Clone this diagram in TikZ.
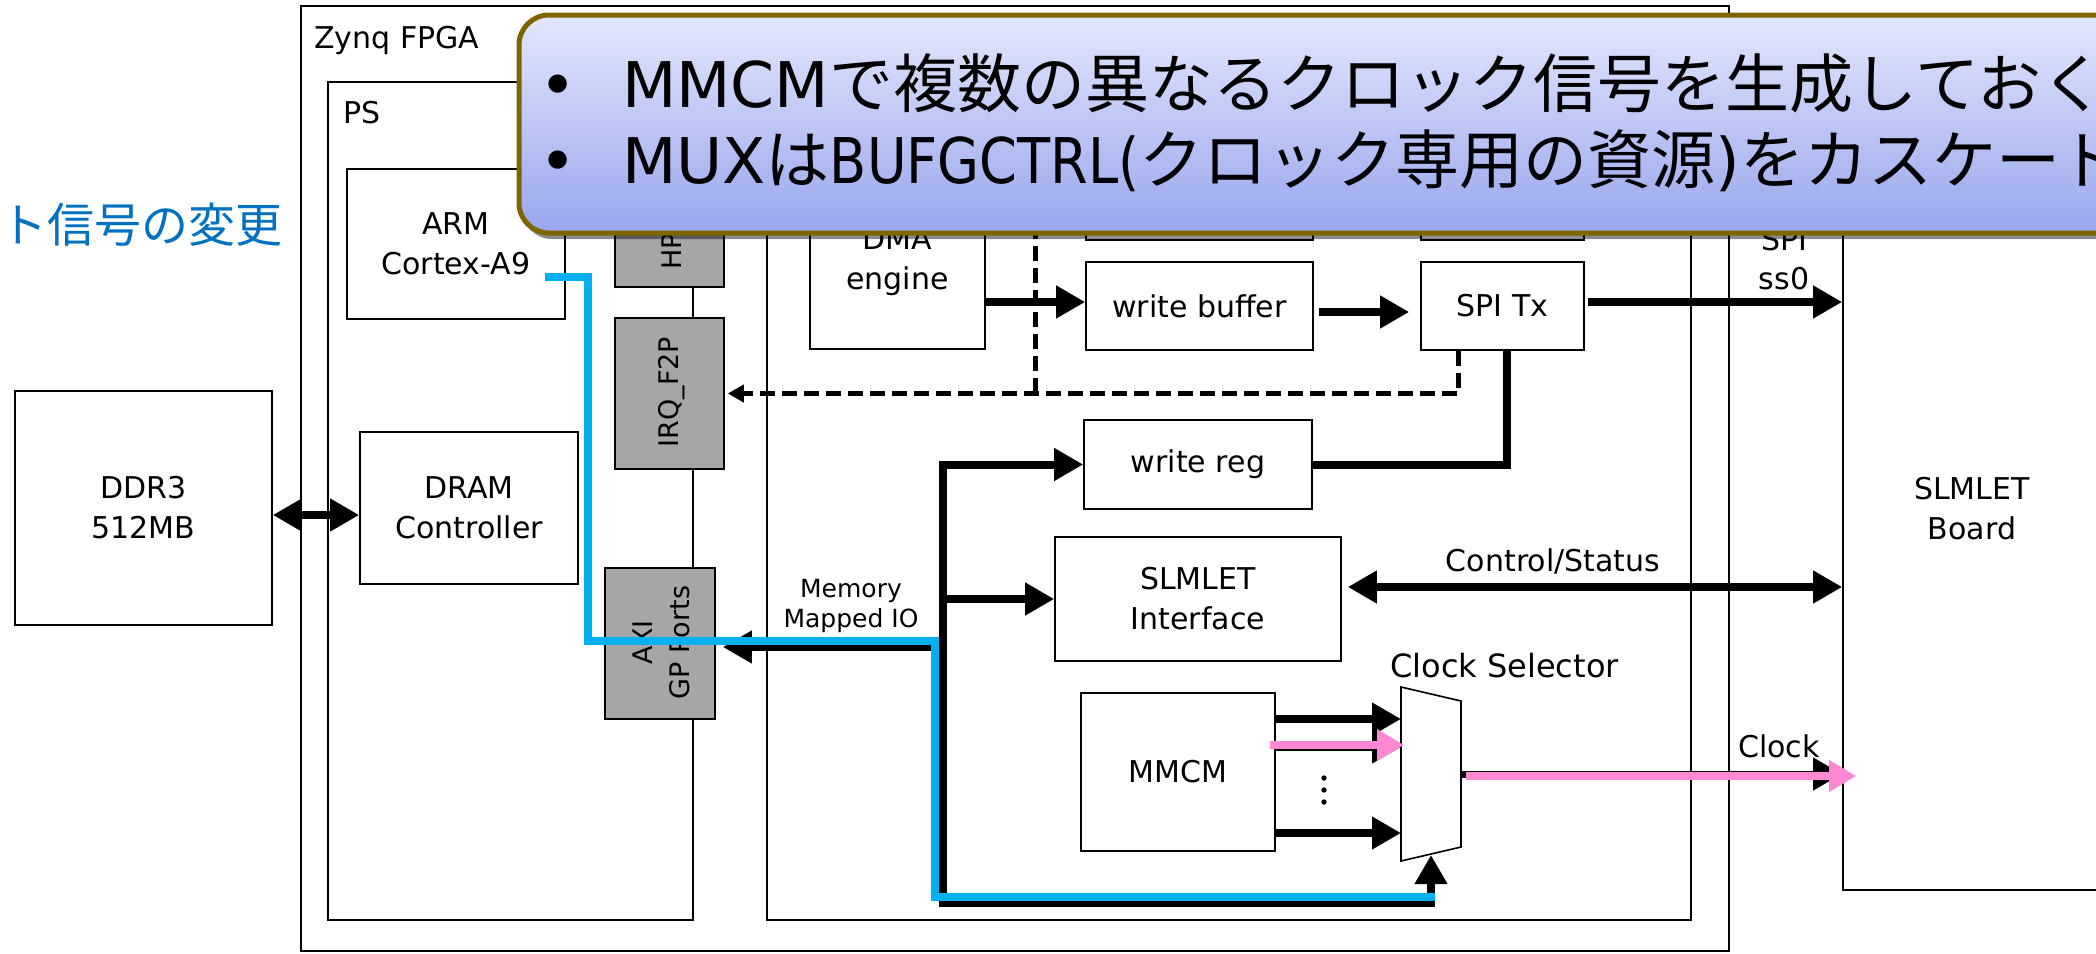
\documentclass[tikz,border=0pt]{standalone}
\usepackage{fontspec}
\usepackage{graphicx}
\setmainfont{DejaVu Sans}
\newfontfamily\jpfont{Noto Sans CJK JP}
\usetikzlibrary{arrows.meta,shadows,calc}
\definecolor{cblue}{HTML}{00B0F0}
\definecolor{cpink}{HTML}{FF88D4}
\definecolor{cgrey}{HTML}{A6A6A6}
\definecolor{cborder}{HTML}{806400}
\definecolor{ctop}{HTML}{E3E7FB}
\definecolor{cbot}{HTML}{98A6EE}
\definecolor{titleblue}{HTML}{0070C0}
\newcommand{\jpbig}[1]{{\jpfont\fontsize{64}{64}\selectfont #1}}
\begin{document}
\begin{tikzpicture}[x=1pt,y=-1pt,
  cframe/.style={draw, line width=1.6pt, inner sep=0pt},
  blk/.style={draw, line width=1.6pt, fill=white, inner sep=0pt, align=center, font=\fontsize{30}{40}\selectfont},
  gblk/.style={blk, fill=cgrey},
  lbl/.style={inner sep=0pt, font=\fontsize{30}{40}\selectfont},
  rot/.style={inner sep=0pt, rotate=90, font=\fontsize{27}{37}\selectfont},
  bus/.style={line width=8pt},
  arrowA/.style={-{Triangle[length=29pt,width=31pt]}},
  darrow/.style={{Triangle[length=29pt,width=31pt]}-{Triangle[length=29pt,width=31pt]}},
  dline/.style={line width=5pt, dash pattern=on 15pt off 7pt},
  darrowtip/.style={-{Triangle[length=16pt,width=17pt]}},
  pbus/.style={line width=8pt, cpink},
  parrow/.style={-{Triangle[length=27pt,width=30pt]}},
  bbus/.style={line width=8pt, cblue, line join=miter}
]
\useasboundingbox (0,0) rectangle (2096,953);
\clip (0,0) rectangle (2096,953);

% containers
\node[cframe, minimum width=1428pt, minimum height=945pt] (zynq) at (1015,478.5) {};
\node[lbl, anchor=base west] (zynqlbl) at (314,48) {Zynq FPGA};
\node[cframe, minimum width=365pt, minimum height=838pt] (ps) at (510.5,501) {};
\node[lbl, anchor=base west] (pslbl) at (343,123) {PS};
\node[cframe, minimum width=924pt, minimum height=838pt] (pl) at (1229,501) {};
\node[cframe, minimum width=357pt, minimum height=808pt] (board) at (2021.5,486) {};
\node[lbl, align=center] (boardlbl) at (1972,509) {SLMLET\\Board};

% PS side
\node[blk, minimum width=257pt, minimum height=234pt] (ddr) at (143.5,508) {DDR3\\512MB};
\node[blk, minimum width=218pt, minimum height=150pt] (arm) at (456,244) {ARM\\Cortex-A9};
\node[blk, minimum width=218pt, minimum height=152pt] (dram) at (469,508) {DRAM\\Controller};
\node[gblk, minimum width=109pt, minimum height=151pt] (hp) at (669.5,211.5) {};
\node[rot, anchor=west] (hplbl) at (672,270) {HP};
\node[gblk, minimum width=109pt, minimum height=151pt] (irq) at (669.5,393.5) {};
\node[rot] (irqlbl) at (672,392) {IRQ\_F2P};
\node[gblk, minimum width=110pt, minimum height=151pt] (axi) at (660,643.5) {};
\node[rot, align=center] (axilbl) at (661.5,642.5) {AXI\\GP Ports};

% PL side
\node[blk, minimum width=175pt, minimum height=174pt] (dma) at (897.5,262) {DMA\\engine};
\node[blk, minimum width=227pt, minimum height=88pt] (rbuf) at (1199.5,196) {};
\node[blk, minimum width=227pt, minimum height=88pt] (wbuf) at (1199.5,306) {write buffer};
\node[blk, minimum width=163pt, minimum height=88pt] (srx) at (1502.5,196) {};
\node[blk, minimum width=163pt, minimum height=88pt] (stx) at (1502.5,306) {SPI Tx};
\node[blk, minimum width=228pt, minimum height=89pt] (wreg) at (1198,464.5) {write reg};
\node[blk, minimum width=286pt, minimum height=124pt] (sif) at (1198,599) {SLMLET\\Interface};
\node[blk, minimum width=194pt, minimum height=158pt] (mmcm) at (1178,772) {MMCM};

% clock selector (mux)
\coordinate (m1) at (1401,687);
\coordinate (m2) at (1461,701);
\coordinate (m3) at (1461,847);
\coordinate (m4) at (1401,861);
\draw[line width=1.6pt, fill=white] (m1) -- (m2) -- (m3) -- (m4) -- cycle;
\coordinate (msel) at (1431,855);
\coordinate (mout) at ($(m2)!0.5!(m3)$);
\node[inner sep=0pt, anchor=base west, font=\fontsize{32}{40}\selectfont] (cslbl) at (1390,677) {Clock Selector};

% labels
\node[inner sep=0pt, align=center, font=\fontsize{25}{30}\selectfont] (mmiolbl) at (851,606) {Memory\\Mapped IO};
\node[lbl, anchor=base] (ctllbl) at (1553,571) {Control/Status};
\node[lbl, anchor=base] (spilbl) at (1784,250) {SPI};
\node[lbl, anchor=base] (ss0lbl) at (1784,289) {ss0};
\node[lbl, anchor=base west] (clklbl) at (1738,757) {Clock};

% DDR <-> DRAM
\draw[bus, darrow] ([yshift=-7pt]ddr.east) -- ([yshift=-7pt]dram.west);

% DMA -> write buffer -> SPI Tx -> board
\draw[bus, arrowA] ([yshift=-40pt]dma.east) -- ([yshift=-40pt]dma.east -| wbuf.west);
\draw[bus, arrowA, shorten <=5pt, shorten >=11pt] ([yshift=-6pt]wbuf.east) -- ([yshift=-6pt]wbuf.east -| stx.west);
\draw[bus, arrowA, shorten <=3pt] ([yshift=4pt]stx.east) -- ([yshift=4pt]stx.east -| board.west);
\draw[bus] ([xshift=4.5pt]stx.south) |- (wreg.east);

% dashed interrupt lines
\coordinate (dtop) at (1035,180);
\draw[dline] (dtop) -- (dtop |- irq.east);
\draw[dline, darrowtip, shorten >=3pt] ([xshift=-44.5pt]stx.south) |- (irq.east);

% memory mapped IO bus
\coordinate (bc) at (943,903);
\coordinate (bmm) at (943,647);
\draw[bus, arrowA, line cap=rect] (bc) |- (wreg.west);
\draw[bus, arrowA, line cap=rect] (bc) -| (msel);
\draw[bus, arrowA] (bc |- sif.west) -- (sif.west);
\draw[bus, arrowA, shorten >=7pt] (bmm) -- (bmm -| axi.east);

% MMCM -> mux
\draw[bus, arrowA] ([yshift=53pt]mmcm.east) -- ([yshift=53pt]mmcm.east -| m1);
\draw[bus, arrowA] ([yshift=25pt]mmcm.east) -- ([yshift=25pt]mmcm.east -| m1);
\draw[bus, arrowA] ([yshift=-61pt]mmcm.east) -- ([yshift=-61pt]mmcm.east -| m1);
\draw[pbus, parrow] ($(mmcm.east)+(-6,-27)$) -- ($(mmcm.east -| m1)+(3,-27)$);
\fill (1324,778) circle (2.7);
\fill (1324,790) circle (2.7);
\fill (1324,802) circle (2.7);

% mux -> board (clock)
\draw[line width=7pt, arrowA] (mout) -- (mout -| board.west);
\draw[pbus, parrow] ($(mout)+(5,2)$) -- ($(mout -| board.west)+(14,2)$);

% Control/Status
\draw[bus, darrow, shorten <=6pt] ([yshift=12pt]sif.east) -- ([yshift=12pt]sif.east -| board.west);

% blue highlighted path
\coordinate (bstart) at ([shift={(-21pt,-32.5pt)}]arm.east);
\coordinate (bend) at (1435,897);
\draw[bbus] (bstart) -- (588,276.5) -- (588,641) -- (935,641) -- (935,897) -- (bend);

% callout
\node[draw=cborder, line width=5pt, rounded corners=30pt, top color=ctop, bottom color=cbot,
      minimum width=1640pt, minimum height=218pt, inner sep=0pt,
      drop shadow={shadow xshift=3pt, shadow yshift=-6pt, opacity=0.45, fill=black}] (callout) at (1339,124) {};
\node[inner sep=0pt, anchor=base west, font=\fontsize{63}{63}\selectfont] (cl1) at (539,107)
  {\makebox[83pt][l]{•}MMCM\jpbig{で複数の異なるクロック信号を生成しておく}};
\node[inner sep=0pt, anchor=base west, font=\fontsize{63}{63}\selectfont] (cl2) at (539,183)
  {\makebox[83pt][l]{•}MUX\jpbig{は}\scalebox{0.86}[1]{BUFGCTRL(}\jpbig{クロック専用の資源})\jpbig{をカスケード}};

% cut-off title fragment
\node[inner sep=0pt, anchor=east, text=titleblue, font=\jpfont\fontsize{47}{47}\selectfont] (ttl) at (283,225) {ト信号の変更};
\end{tikzpicture}
\end{document}
